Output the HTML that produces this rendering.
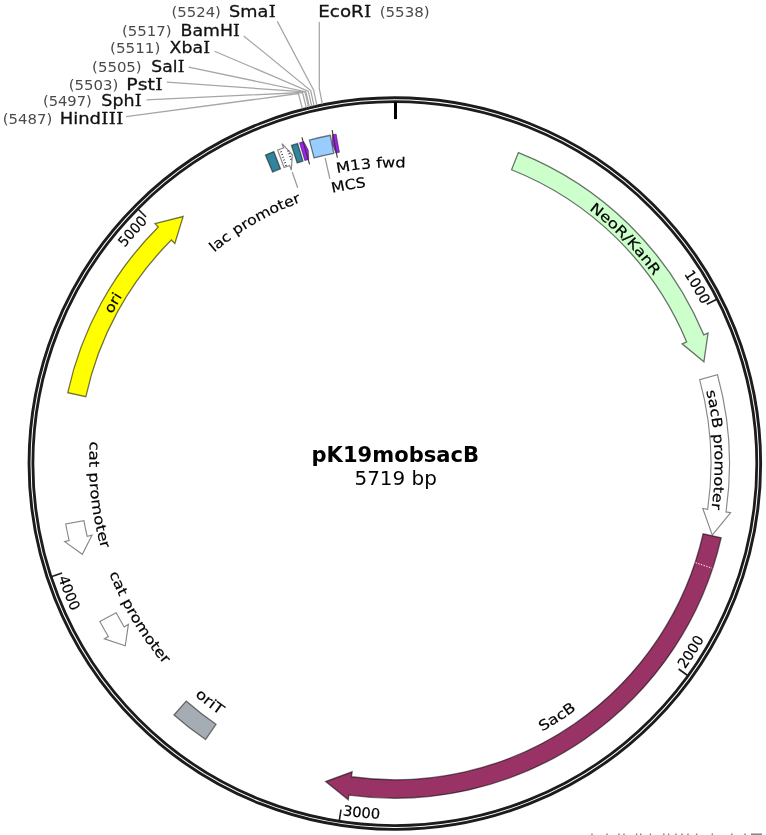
<!DOCTYPE html>
<html lang="en"><head><meta charset="utf-8"><title>pK19mobsacB</title>
<style>
html,body{margin:0;padding:0;background:#fff;}
body{width:766px;height:835px;overflow:hidden;}
svg{display:block;}
text{font-family:"DejaVu Sans","Liberation Sans",sans-serif;}
.fl{fill:#000;stroke:#000;stroke-width:0.18px;}
.num{fill:#4a4a4a;}
.enz{fill:#111;stroke:#111;stroke-width:0.3px;}
.mi{font-family:"DejaVu Serif","Liberation Serif",serif;}
.title{font-weight:bold;fill:#000;}
.bp{fill:#000;}
</style></head><body>
<svg width="766" height="835" viewBox="0 0 766 835">
<defs>
<path id="p0" d="M589 209.48 A319.8 319.8 0 0 1 706.92 393.73"/>
<path id="p1" d="M706.32 391.07 A319.8 319.8 0 0 1 680.07 608.24"/>
<path id="p2" d="M112.13 314.13 A319.8 319.8 0 0 1 274.35 167.37"/>
<path id="p3" d="M542.02 731.43 A305.6 305.6 0 0 0 679.75 574.17"/>
<path id="p4" d="M194.72 695.61 A306.4 306.4 0 0 0 390.68 769.97"/>
<path id="p5" d="M109.34 573.41 A305.9 305.9 0 0 0 246.72 731.24"/>
<path id="p6" d="M89.96 441.4 A305.7 305.7 0 0 0 147.02 642.57"/>
<path id="p7" d="M214.17 252.58 A277.8 277.8 0 0 1 392.08 185.81"/>
<path id="p8" d="M332.24 192.74 A278 278 0 0 1 521 215.87"/>
<path id="p9" d="M337.09 172.98 A296.3 296.3 0 0 1 537.41 203.85"/>
<path id="p10" d="M683.98 274.1 A345.7 345.7 0 0 1 738.15 504.28"/>
<path id="p11" d="M684.88 669.26 A355.55 355.55 0 0 0 749.22 434.71"/>
<path id="p12" d="M342.48 815.27 A355.55 355.55 0 0 0 580.78 766.66"/>
<path id="p13" d="M58.16 577.87 A355.55 355.55 0 0 0 210.38 767.55"/>
<path id="p14" d="M124.77 247.81 A345.7 345.7 0 0 1 326.66 124.69"/>
</defs>
<circle cx="394.85" cy="463.6" r="365.8" fill="none" stroke="#1c1c1c" stroke-width="2.9"/>
<circle cx="394.85" cy="463.6" r="361.95" fill="none" stroke="#1c1c1c" stroke-width="2.8"/>
<line x1="395.5" y1="102" x2="395.5" y2="119.1" stroke="#000" stroke-width="3"/>
<line x1="706.83" y1="304.28" x2="716.35" y2="299.42" stroke="#1c1c1c" stroke-width="1.6"/>
<line x1="678.62" y1="668.99" x2="687.29" y2="675.26" stroke="#1c1c1c" stroke-width="1.6"/>
<line x1="340.99" y1="809.73" x2="339.35" y2="820.31" stroke="#1c1c1c" stroke-width="1.6"/>
<line x1="62.09" y1="573.06" x2="51.93" y2="576.4" stroke="#1c1c1c" stroke-width="1.6"/>
<line x1="146.03" y1="217.03" x2="138.43" y2="209.49" stroke="#1c1c1c" stroke-width="1.6"/>
<path d="M518.37 152.58 A334.65 334.65 0 0 1 703.73 334.83 L708.03 333.04 L703.92 361.8 L682.09 343.86 L686.66 341.95 A316.15 316.15 0 0 0 511.54 169.77 Z" fill="#ccffcc" stroke="#000" stroke-opacity="0.55" stroke-width="1.3"/>
<path d="M717.48 374.73 A334.65 334.65 0 0 1 725.99 511.91 L730.6 512.58 L712.29 535.14 L702.79 508.52 L707.69 509.24 A316.15 316.15 0 0 0 699.65 379.64 Z" fill="#ffffff" stroke="#000" stroke-opacity="0.47" stroke-width="1.15"/>
<path d="M721.16 537.86 A334.65 334.65 0 0 1 348.91 795.08 L348.27 799.69 L325.59 781.54 L352.13 771.85 L351.45 776.76 A316.15 316.15 0 0 0 703.12 533.75 Z" fill="#993366" stroke="#000" stroke-opacity="0.55" stroke-width="1.3"/>
<line x1="695.59" y1="562.71" x2="712.21" y2="568.19" stroke="#fff" stroke-width="1" stroke-dasharray="1.4 1.4"/>
<path d="M205.54 739.56 A334.65 334.65 0 0 1 173.98 715.01 L186.19 701.11 A316.15 316.15 0 0 0 216.01 724.3 Z" fill="#a6acb3" stroke="#000" stroke-opacity="0.5" stroke-width="1.3"/>
<path d="M99.84 621.58 A334.65 334.65 0 0 0 108.33 636.51 L104.35 638.91 L125.24 645.8 L128.41 624.39 L124.17 626.95 A316.15 316.15 0 0 1 116.15 612.85 Z" fill="#fff" stroke="#000" stroke-opacity="0.47" stroke-width="1.15"/>
<path d="M65.7 524.01 A334.65 334.65 0 0 0 69.16 540.53 L64.64 541.6 L82.34 554.27 L91.98 535.14 L87.17 536.28 A316.15 316.15 0 0 1 83.89 520.67 Z" fill="#fff" stroke="#000" stroke-opacity="0.47" stroke-width="1.15"/>
<path d="M67.79 392.71 A334.65 334.65 0 0 1 158.26 226.93 L154.97 223.64 L183.13 216.5 L174.84 243.51 L171.34 240.01 A316.15 316.15 0 0 0 85.87 396.63 Z" fill="#ffff00" stroke="#000" stroke-opacity="0.55" stroke-width="1.3"/>
<path d="M265.44 154.99 A334.65 334.65 0 0 1 273.83 151.6 L280.52 168.85 A316.15 316.15 0 0 0 272.59 172.05 Z" fill="#31849b" stroke="#000" stroke-opacity="0.5" stroke-width="1.3"/>
<path d="M277.65 150.14 A334.65 334.65 0 0 1 283.53 148.01 L281.98 143.62 L292.35 154.76 L291.33 170.12 L289.68 165.46 A316.15 316.15 0 0 0 284.13 167.47 Z" fill="#fff" stroke="#000" stroke-opacity="0.47" stroke-width="1.15"/>
<line x1="286.19" y1="165.86" x2="280.22" y2="149.51" stroke="#444" stroke-width="1.9" stroke-dasharray="0.9 2"/>
<line x1="291.18" y1="159.59" x2="288.05" y2="150.41" stroke="#444" stroke-width="1.9" stroke-dasharray="0.9 2"/>
<path d="M291.44 145.33 A334.65 334.65 0 0 1 297.57 143.4 L302.94 161.1 A316.15 316.15 0 0 0 297.15 162.92 Z" fill="#31849b" stroke="#000" stroke-opacity="0.5" stroke-width="1.3"/>
<path d="M299.52 142.81 L303.73 141.59 L308.22 149.94 L308.77 159.39 L304.79 160.55 Z" fill="#a020f0" stroke="#000" stroke-opacity="0.5" stroke-width="0.9"/>
<line x1="309.59" y1="164.31" x2="301.9" y2="137.28" stroke="#333" stroke-width="1.1"/>
<path d="M309.37 140.05 A334.65 334.65 0 0 1 330.25 135.24 L333.82 153.4 A316.15 316.15 0 0 0 314.09 157.94 Z" fill="#99ccff" stroke="#000" stroke-opacity="0.5" stroke-width="1.3"/>
<path d="M336.16 134.14 L332.31 134.84 L332.59 144.21 L335.77 153.02 L339.41 152.35 Z" fill="#a020f0" stroke="#000" stroke-opacity="0.5" stroke-width="0.9"/>
<line x1="337.34" y1="157.76" x2="332.14" y2="130.14" stroke="#333" stroke-width="1.1"/>
<line x1="292.25" y1="172.24" x2="297.73" y2="187.8" stroke="#999" stroke-width="1.25"/>
<line x1="325.11" y1="157.85" x2="329.89" y2="178.82" stroke="#999" stroke-width="1.25"/>
<text class="fl" font-size="14"><textPath href="#p0" textLength="93.11" lengthAdjust="spacingAndGlyphs">NeoR/KanR</textPath></text>
<text class="fl" font-size="14"><textPath href="#p1" textLength="118.71" lengthAdjust="spacingAndGlyphs">sacB promoter</textPath></text>
<text class="fl" font-size="14"><textPath href="#p2" textLength="20.69" lengthAdjust="spacingAndGlyphs">ori</textPath></text>
<text class="fl" font-size="14"><textPath href="#p3" textLength="41" lengthAdjust="spacingAndGlyphs">SacB</textPath></text>
<text class="fl" font-size="14"><textPath href="#p4" textLength="31.89" lengthAdjust="spacingAndGlyphs">oriT</textPath></text>
<text class="fl" font-size="14"><textPath href="#p5" textLength="106.72" lengthAdjust="spacingAndGlyphs">cat promoter</textPath></text>
<text class="fl" font-size="14"><textPath href="#p6" textLength="108.7" lengthAdjust="spacingAndGlyphs">cat promoter</textPath></text>
<text class="fl" font-size="14"><textPath href="#p7" textLength="101.05" lengthAdjust="spacingAndGlyphs">lac promoter</textPath></text>
<text class="fl" font-size="14"><textPath href="#p8" textLength="34.47" lengthAdjust="spacingAndGlyphs">MCS</textPath></text>
<text class="fl" font-size="14"><textPath href="#p9" textLength="68.93" lengthAdjust="spacingAndGlyphs">M13 fwd</textPath></text>
<text class="fl" font-size="14.2"><textPath href="#p10" textLength="35.52" lengthAdjust="spacingAndGlyphs">1000</textPath></text>
<text class="fl" font-size="14.2"><textPath href="#p11" textLength="35.92" lengthAdjust="spacingAndGlyphs">2000</textPath></text>
<text class="fl" font-size="14.2"><textPath href="#p12" textLength="37.55" lengthAdjust="spacingAndGlyphs">3000</textPath></text>
<text class="fl" font-size="14.2"><textPath href="#p13" textLength="36.19" lengthAdjust="spacingAndGlyphs">4000</textPath></text>
<text class="fl" font-size="14.2"><textPath href="#p14" textLength="34.93" lengthAdjust="spacingAndGlyphs">5000</textPath></text>
<polyline points="126.1,116.7 298.43,93.55 302.37,108.65" fill="none" stroke="#a6a6a6" stroke-width="1.25"/>
<polyline points="146.5,99.9 302.5,92.52 306.27,107.66" fill="none" stroke="#a6a6a6" stroke-width="1.25"/>
<polyline points="166.8,82.2 304.95,91.92 308.62,107.08" fill="none" stroke="#a6a6a6" stroke-width="1.25"/>
<polyline points="188.7,67.1 305.77,91.72 309.4,106.89" fill="none" stroke="#a6a6a6" stroke-width="1.25"/>
<polyline points="214.5,51.2 308.22,91.14 311.76,106.34" fill="none" stroke="#a6a6a6" stroke-width="1.25"/>
<polyline points="243.7,35.9 310.68,90.58 314.11,105.8" fill="none" stroke="#a6a6a6" stroke-width="1.25"/>
<polyline points="277.3,21.4 313.55,89.94 316.87,105.19" fill="none" stroke="#a6a6a6" stroke-width="1.25"/>
<polyline points="319.3,22.0 319.31,88.74 322.39,104.03" fill="none" stroke="#a6a6a6" stroke-width="1.25"/>
<text class="enz" font-size="16.4" transform="translate(59.7 124) scale(1.0954 1)" x="0 12.33 16.89 27.28 37.91 44.81 51.71" y="0">Hind<tspan class="mi">III</tspan></text>
<text class="num" font-size="14.2" transform="translate(2.7 124) scale(1.0493 1)">(5487)</text>
<text class="enz" font-size="16.4" transform="translate(101.3 106.2) scale(1.0654 1)" x="0 10.41 20.82 31.43" y="0">Sph<tspan class="mi">I</tspan></text>
<text class="num" font-size="14.2" transform="translate(42.9 106.2) scale(1.0360 1)">(5497)</text>
<text class="enz" font-size="16.4" transform="translate(126.3 89.5) scale(1.1514 1)" x="0 9.89 18.43 25.08" y="0">Pst<tspan class="mi">I</tspan></text>
<text class="num" font-size="14.2" transform="translate(68.7 89.5) scale(1.0502 1)">(5503)</text>
<text class="enz" font-size="16.4" transform="translate(151.3 71.9) scale(1.0442 1)" x="0 10.41 20.46 25.23" y="0">Sal<tspan class="mi">I</tspan></text>
<text class="num" font-size="14.2" transform="translate(92.1 71.9) scale(1.0507 1)">(5505)</text>
<text class="enz" font-size="16.4" transform="translate(169.5 53.2) scale(1.0576 1)" x="0 11.24 21.65 31.91" y="0">Xba<tspan class="mi">I</tspan></text>
<text class="num" font-size="14.2" transform="translate(110.1 53.2) scale(1.0648 1)">(5511)</text>
<text class="enz" font-size="16.4" transform="translate(180.5 35.6) scale(1.0564 1)" x="0 11.25 21.3 37.28 49.82" y="0">BamH<tspan class="mi">I</tspan></text>
<text class="num" font-size="14.2" transform="translate(121.9 35.6) scale(1.0540 1)">(5517)</text>
<text class="enz" font-size="16.4" transform="translate(229.1 17.2) scale(1.0794 1)" x="0 10.41 26.39 36.65" y="0">Sma<tspan class="mi">I</tspan></text>
<text class="num" font-size="14.2" transform="translate(171.5 17.2) scale(1.0473 1)">(5524)</text>
<text class="enz" font-size="16.4" transform="translate(318.3 17.2) scale(1.1148 1)" x="0 10.36 19.38 29.41 41.02" y="0">EcoR<tspan class="mi">I</tspan></text>
<text class="num" font-size="14.2" transform="translate(379.7 17.2) scale(1.0587 1)">(5538)</text>
<text class="title" font-size="20.8" transform="translate(311.5 461.6) scale(1.0138 1)">pK19mobsacB</text>
<text class="bp" font-size="19.0" transform="translate(354.5 484.6) scale(1.0503 1)">5719 bp</text>
<path d="M591.3 833.6h1.4v2h-1.4zM606.3 833.6h1.4v2h-1.4zM618.3 833.6h1.4v2h-1.4zM623.3 833.6h1.4v2h-1.4zM635.9 833.6h1.4v2h-1.4zM640 833.6h1.4v2h-1.4zM649.7 833.6h1.4v2h-1.4zM663.1 833.6h1.4v2h-1.4zM667.9 833.6h1.4v2h-1.4zM675.2 833.6h1.4v2h-1.4zM681.3 833.6h1.4v2h-1.4zM687.3 833.6h1.4v2h-1.4zM695.9 833.6h1.4v2h-1.4zM711.6 833.6h1.4v2h-1.4zM731.1 833.6h1.4v2h-1.4zM744.3 833.6h1.4v2h-1.4z" fill="#5a5a5a" fill-opacity="0.75"/>
<rect x="751" y="833.4" width="11" height="2" fill="#8a8a8a"/>
</svg>
</body></html>
